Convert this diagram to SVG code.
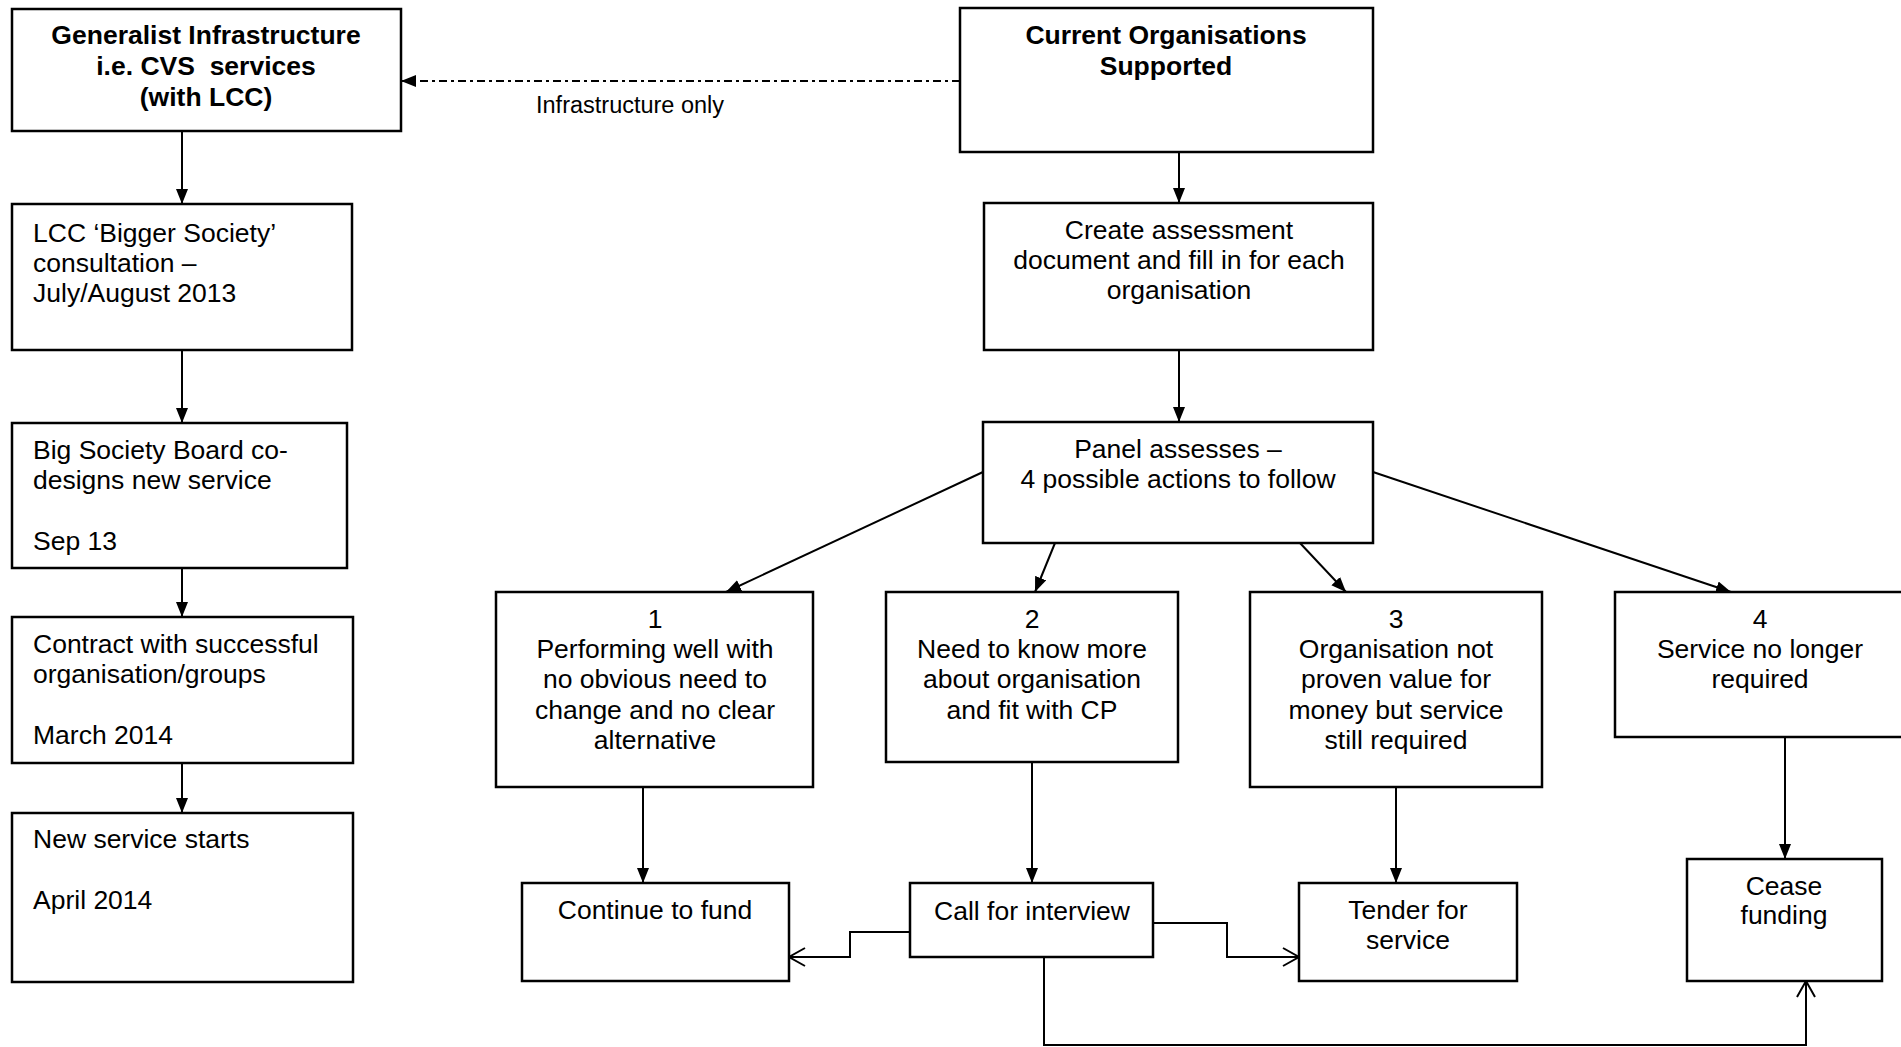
<svg xmlns="http://www.w3.org/2000/svg" width="1901" height="1047" viewBox="0 0 1901 1047">
<style>
.box{fill:#fff;stroke:#000;stroke-width:2.5}
.t{font-family:"Liberation Sans",Arial,sans-serif;font-size:26.5px;fill:#000}
.c{text-anchor:middle}
.b{font-weight:bold}
.lbl{font-family:"Liberation Sans",Arial,sans-serif;font-size:23.5px;fill:#000}
.ln{fill:none;stroke:#000;stroke-width:2}
.fa{marker-end:url(#fill)}
.oa{marker-end:url(#open)}
</style>
<defs>
<marker id="fill" markerUnits="userSpaceOnUse" markerWidth="17" markerHeight="13" refX="15" refY="6" orient="auto">
<path d="M0,0 L15,6 L0,12 z" fill="#000"/>
</marker>
<marker id="open" markerUnits="userSpaceOnUse" markerWidth="20" markerHeight="22" refX="17" refY="10" orient="auto">
<path d="M1,1 L17,10 L1,19" fill="none" stroke="#000" stroke-width="2"/>
</marker>
</defs>
<rect width="1901" height="1047" fill="#fff"/>
<g id="connectors">
<line class="ln fa" x1="182" y1="131" x2="182" y2="204"/>
<line class="ln fa" x1="182" y1="350" x2="182" y2="423"/>
<line class="ln fa" x1="182" y1="568" x2="182" y2="617"/>
<line class="ln fa" x1="182" y1="763" x2="182" y2="813"/>
<line class="ln fa" x1="960" y1="81" x2="401" y2="81" stroke-width="2.2" stroke-dasharray="8 4 3 4"/>
<line class="ln fa" x1="1179" y1="152" x2="1179" y2="203"/>
<line class="ln fa" x1="1179" y1="350" x2="1179" y2="422"/>
<line class="ln fa" x1="983" y1="472" x2="726" y2="592"/>
<line class="ln fa" x1="1055" y1="543" x2="1035" y2="592"/>
<line class="ln fa" x1="1300" y1="543" x2="1346" y2="592"/>
<line class="ln fa" x1="1373" y1="472" x2="1731" y2="592"/>
<line class="ln fa" x1="643" y1="787" x2="643" y2="883"/>
<line class="ln fa" x1="1032" y1="762" x2="1032" y2="883"/>
<line class="ln fa" x1="1396" y1="787" x2="1396" y2="883"/>
<line class="ln fa" x1="1785" y1="737" x2="1785" y2="859"/>
<polyline class="ln oa" points="910,932 850,932 850,957 789,957"/>
<polyline class="ln oa" points="1153,923 1227,923 1227,957 1299,957"/>
<polyline class="ln oa" points="1044,957 1044,1045 1806,1045 1806,981"/>
<text class="lbl" x="536" y="113">Infrastructure only</text>
</g>
<g id="generalist">
<rect class="box" x="12" y="9" width="389" height="122"/>
<text class="t c b" x="206" y="44">Generalist Infrastructure</text>
<text class="t c b" x="206" y="75" xml:space="preserve">i.e. CVS  services</text>
<text class="t c b" x="206" y="106">(with LCC)</text>
</g>
<g id="lcc">
<rect class="box" x="12" y="204" width="340" height="146"/>
<text class="t" x="33" y="242">LCC ‘Bigger Society’</text>
<text class="t" x="33" y="272">consultation –</text>
<text class="t" x="33" y="302">July/August 2013</text>
</g>
<g id="board">
<rect class="box" x="12" y="423" width="335" height="145"/>
<text class="t" x="33" y="459">Big Society Board co-</text>
<text class="t" x="33" y="489">designs new service</text>
<text class="t" x="33" y="550">Sep 13</text>
</g>
<g id="contract">
<rect class="box" x="12" y="617" width="341" height="146"/>
<text class="t" x="33" y="653">Contract with successful</text>
<text class="t" x="33" y="683">organisation/groups</text>
<text class="t" x="33" y="744">March 2014</text>
</g>
<g id="newservice">
<rect class="box" x="12" y="813" width="341" height="169"/>
<text class="t" x="33" y="848">New service starts</text>
<text class="t" x="33" y="909">April 2014</text>
</g>
<g id="current">
<rect class="box" x="960" y="8" width="413" height="144"/>
<text class="t c b" x="1166" y="44">Current Organisations</text>
<text class="t c b" x="1166" y="75">Supported</text>
</g>
<g id="create">
<rect class="box" x="984" y="203" width="389" height="147"/>
<text class="t c" x="1179" y="239">Create assessment</text>
<text class="t c" x="1179" y="269">document and fill in for each</text>
<text class="t c" x="1179" y="299">organisation</text>
</g>
<g id="panel">
<rect class="box" x="983" y="422" width="390" height="121"/>
<text class="t c" x="1178" y="458">Panel assesses –</text>
<text class="t c" x="1178" y="488">4 possible actions to follow</text>
</g>
<g id="option1">
<rect class="box" x="496" y="592" width="317" height="195"/>
<text class="t c" x="655" y="628">1</text>
<text class="t c" x="655" y="658">Performing well with</text>
<text class="t c" x="655" y="688">no obvious need to</text>
<text class="t c" x="655" y="719">change and no clear</text>
<text class="t c" x="655" y="749">alternative</text>
</g>
<g id="option2">
<rect class="box" x="886" y="592" width="292" height="170"/>
<text class="t c" x="1032" y="628">2</text>
<text class="t c" x="1032" y="658">Need to know more</text>
<text class="t c" x="1032" y="688">about organisation</text>
<text class="t c" x="1032" y="719">and fit with CP</text>
</g>
<g id="option3">
<rect class="box" x="1250" y="592" width="292" height="195"/>
<text class="t c" x="1396" y="628">3</text>
<text class="t c" x="1396" y="658">Organisation not</text>
<text class="t c" x="1396" y="688">proven value for</text>
<text class="t c" x="1396" y="719">money but service</text>
<text class="t c" x="1396" y="749">still required</text>
</g>
<g id="option4">
<rect class="box" x="1615" y="592" width="300" height="145"/>
<text class="t c" x="1760" y="628">4</text>
<text class="t c" x="1760" y="658">Service no longer</text>
<text class="t c" x="1760" y="688">required</text>
</g>
<g id="continue">
<rect class="box" x="522" y="883" width="267" height="98"/>
<text class="t c" x="655" y="919">Continue to fund</text>
</g>
<g id="interview">
<rect class="box" x="910" y="883" width="243" height="74"/>
<text class="t c" x="1032" y="920">Call for interview</text>
</g>
<g id="tender">
<rect class="box" x="1299" y="883" width="218" height="98"/>
<text class="t c" x="1408" y="919">Tender for</text>
<text class="t c" x="1408" y="949">service</text>
</g>
<g id="cease">
<rect class="box" x="1687" y="859" width="195" height="122"/>
<text class="t c" x="1784" y="895">Cease</text>
<text class="t c" x="1784" y="924">funding</text>
</g>
</svg>
